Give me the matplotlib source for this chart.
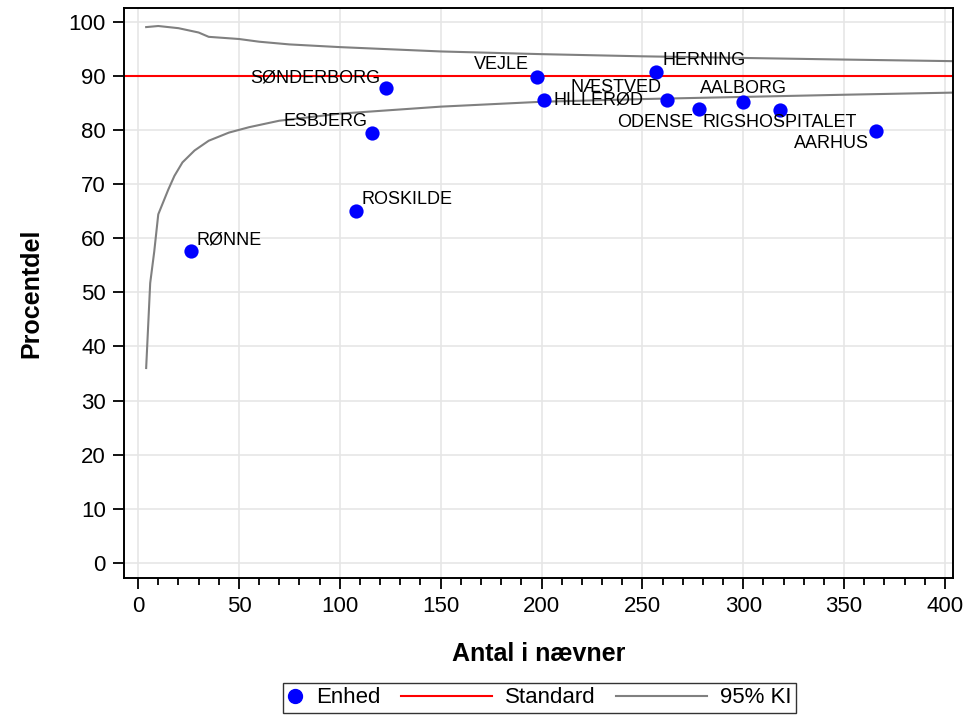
import numpy as np
import matplotlib.pyplot as plt
from matplotlib.lines import Line2D
from matplotlib.legend_handler import HandlerLine2D

plt.rcParams['font.family'] = ['Liberation Sans', 'DejaVu Sans']

# units: name, denominator, percent
units = ['RØNNE', 'ROSKILDE', 'ESBJERG', 'SØNDERBORG', 'VEJLE', 'HILLERØD',
         'HERNING', 'NÆSTVED', 'ODENSE', 'AALBORG', 'RIGSHOSPITALET', 'AARHUS']
n_units = [26, 108, 116, 123, 198, 201, 257, 262, 278, 300, 318, 366]
pct_units = [57.6, 65.0, 79.4, 87.7, 89.7, 85.5, 90.7, 85.5, 83.8, 85.1, 83.7, 79.8]

standard = 90

# 95% control limits
n_upper = [4, 10, 20, 30, 35, 50, 60, 75, 100, 150, 200, 250, 300, 350, 405]
upper = [99.0, 99.2, 98.8, 98.0, 97.2, 96.8, 96.3, 95.8, 95.3, 94.5, 94.0, 93.6, 93.3, 93.0, 92.7]
n_lower = [4, 6, 8, 10, 15, 18, 22, 28, 35, 45, 55, 70, 100, 150, 200, 250, 300, 350, 405]
lower = [36.0, 51.7, 57.5, 64.4, 69.0, 71.5, 74.0, 76.2, 78.0, 79.5, 80.5, 81.7, 83.0, 84.3,
         85.2, 85.7, 86.1, 86.5, 86.9]

# label offsets (points) and alignment
offsets = {
    'RØNNE': (4, 2, 'left', 'bottom'),
    'ROSKILDE': (4, 2, 'left', 'bottom'),
    'ESBJERG': (-3, 2, 'right', 'bottom'),
    'SØNDERBORG': (-4, 1, 'right', 'bottom'),
    'VEJLE': (-6, 3, 'right', 'bottom'),
    'HILLERØD': (7, 0, 'left', 'center'),
    'HERNING': (4, 2, 'left', 'bottom'),
    'NÆSTVED': (-4, 3, 'right', 'bottom'),
    'ODENSE': (-4, -3, 'right', 'top'),
    'AALBORG': (0, 4, 'center', 'bottom'),
    'RIGSHOSPITALET': (0, -3, 'center', 'top'),
    'AARHUS': (-5, -3, 'right', 'top'),
}


class NarrowMarker(HandlerLine2D):
    def legend_artist(self, legend, orig_handle, fontsize, handlebox):
        handlebox.width = 0.7 * fontsize
        return super().legend_artist(legend, orig_handle, fontsize, handlebox)


fig = plt.figure(figsize=(9.64, 7.15), dpi=100)
ax = fig.add_axes([0.1286, 0.1916, 0.860, 0.797])

ax.plot(n_upper, upper, color='#808080', lw=1.5, zorder=2)
ax.plot(n_lower, lower, color='#808080', lw=1.5, zorder=2)
ax.axhline(standard, color='red', lw=1.5, zorder=2)
ax.scatter(n_units, pct_units, s=105, color='blue', zorder=3, linewidths=0)

for name, x, y in zip(units, n_units, pct_units):
    dx, dy, ha, va = offsets[name]
    ax.annotate(name, (x, y), xytext=(dx, dy), textcoords='offset points',
                ha=ha, va=va, fontsize=13, zorder=4)

ax.set_xlim(-7, 404)
ax.set_ylim(-2.8, 102.5)
ax.set_xticks(np.arange(0, 401, 50))
ax.set_xticks(np.arange(0, 401, 10), minor=True)
ax.set_yticks(np.arange(0, 101, 10))
ax.tick_params(axis='both', labelsize=16, length=8, width=1.3, pad=5)
ax.tick_params(axis='x', which='minor', length=5, width=1.3)
ax.grid(True, color='#e6e6e6', lw=1.2, zorder=0)
ax.set_axisbelow(True)
for s in ax.spines.values():
    s.set_linewidth(1.4)

ax.set_xlabel('Antal i nævner', fontsize=18, fontweight='bold', labelpad=18)
ax.set_ylabel('Procentdel', fontsize=18, fontweight='bold', labelpad=18)

h_unit = Line2D([], [], marker='o', ls='none', color='blue', markersize=10)
h_std = Line2D([], [], color='red', lw=1.5)
h_ci = Line2D([], [], color='#808080', lw=1.5)
fig.legend([h_unit, h_std, h_ci], ['Enhed', 'Standard', '95% KI'], loc='lower center',
           bbox_to_anchor=(0.5596, 0.0), ncol=3, fontsize=16, frameon=True,
           fancybox=False, edgecolor='black', handlelength=4.1, columnspacing=0.9,
           handletextpad=0.6, borderpad=0.2, borderaxespad=0.1,
           handler_map={h_unit: NarrowMarker(numpoints=1)})

fig.savefig('out.png', dpi=100)
